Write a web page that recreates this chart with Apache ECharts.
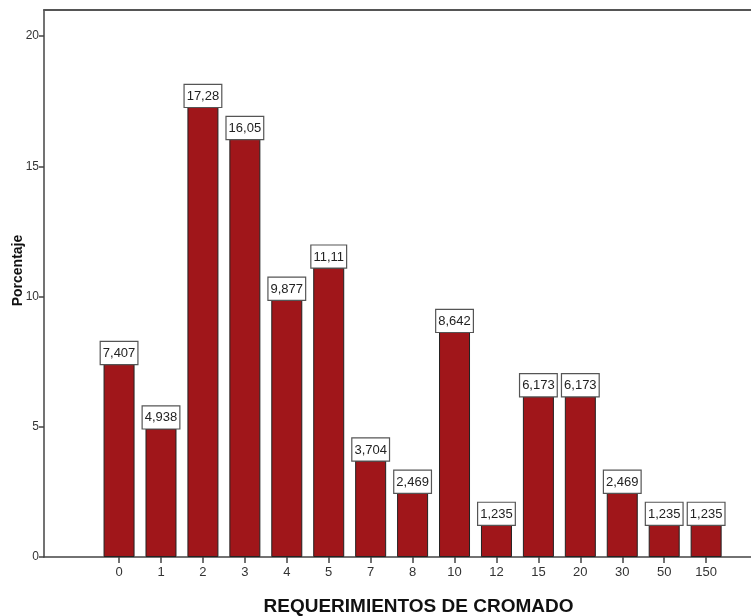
<!DOCTYPE html>
<html><head><meta charset="utf-8">
<script src="https://cdn.jsdelivr.net/npm/echarts@6/dist/echarts.min.js"></script>
<style>html,body{margin:0;padding:0;background:#fff}#c{width:751px;height:616px}</style>
</head><body><div id="c"></div>
<script>
var categories = ['0','1','2','3','4','5','7','8','10','12','15','20','30','50','150'];
var values = [7.407, 4.938, 17.28, 16.05, 9.877, 11.11, 3.704, 2.469, 8.642, 1.235, 6.173, 6.173, 2.469, 1.235, 1.235];
var yTicks = [0, 5, 10, 15, 20];

var idx = categories.map(function(c, i){ return i; });
var data = values.map(function(v, i){ return [i, v]; });

var chart = echarts.init(document.getElementById('c'));
chart.setOption({
  animation: false,
  grid: { left: 44, top: 10, right: 0, bottom: 59, outerBoundsMode: 'none', containLabel: false },
  xAxis: [{
    type: 'value', min: -1.79, max: 15.07,
    name: 'REQUERIMIENTOS DE CROMADO', nameLocation: 'middle', nameGap: 40,
    nameTextStyle: { fontFamily: 'Liberation Sans, Arial', fontWeight: 'bold', fontSize: 19, color: '#111', padding: [0, 0, 0, 42] },
    splitLine: { show: false },
    axisLine: { onZero: false, lineStyle: { color: '#444', width: 1.5 } },
    axisTick: { customValues: idx, length: 6, lineStyle: { color: '#444', width: 1.5 } },
    axisLabel: { customValues: idx, formatter: function(v){ return categories[Math.round(v)]; }, fontFamily: 'Liberation Sans, Arial', fontSize: 13, color: '#333', margin: 9 }
  }, {
    type: 'value', min: -1.79, max: 15.07, position: 'top',
    splitLine: { show: false },
    axisLine: { show: true, onZero: false, lineStyle: { color: '#555', width: 2 } },
    axisTick: { show: false }, axisLabel: { show: false }
  }],
  yAxis: {
    type: 'value', min: 0, max: 21,
    name: 'Porcentaje', nameLocation: 'middle', nameGap: 19, nameRotate: 90, nameMoveOverlap: false,
    nameTextStyle: { fontFamily: 'Liberation Sans, Arial', fontWeight: 'bold', fontSize: 14, color: '#111', padding: [0, 0, 0, 26] },
    splitLine: { show: false },
    axisLine: { show: true, onZero: false, lineStyle: { color: '#444', width: 1.5 } },
    axisTick: { show: true, customValues: yTicks, length: 5, lineStyle: { color: '#444', width: 1.5 } },
    axisLabel: { customValues: yTicks, fontFamily: 'Liberation Sans, Arial', fontSize: 12, color: '#333', margin: 5 }
  },
  series: [{
    type: 'bar', data: data, barWidth: 31, xAxisIndex: 0,
    itemStyle: { color: '#a0161a', borderColor: '#222', borderWidth: 1 },
    label: {
      show: true, position: 'top', distance: 0,
      formatter: function(p){ return String(p.value[1]).replace('.', ','); },
      fontFamily: 'Liberation Sans, Arial', fontSize: 13, color: '#222', lineHeight: 15,
      backgroundColor: '#fff', borderColor: '#555', borderWidth: 1.2, padding: [4, 2, 3, 2]
    }
  }]
});
</script></body></html>
